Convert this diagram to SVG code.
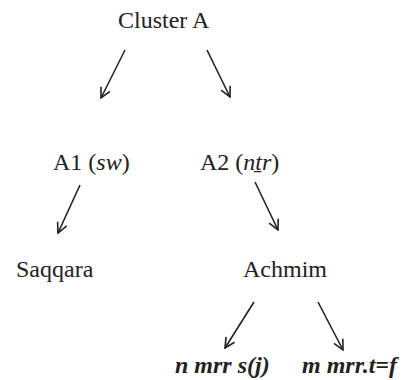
<svg xmlns="http://www.w3.org/2000/svg" width="403" height="380" viewBox="0 0 403 380">
<style>
text{font-family:"Liberation Serif","Times New Roman",serif;font-size:24px;fill:#222}
.i{font-style:italic}
.bi{font-style:italic;font-weight:bold}
.c line{stroke:#222;stroke-width:1.6;fill:none;marker-end:url(#ah)}
</style>
<defs>
<marker id="ah" viewBox="0 0 12 12" refX="11" refY="6" markerWidth="12" markerHeight="12" markerUnits="userSpaceOnUse" orient="auto">
<path d="M1,1 L11,6 L1,11" fill="none" stroke="#222" stroke-width="1.6"/>
</marker>
</defs>
<rect width="403" height="380" fill="#fff"/>
<g id="clusterA"><text x="118" y="28">Cluster A</text></g>
<g id="A1"><text x="53" y="170">A1 (<tspan class="i">sw</tspan>)</text></g>
<g id="A2"><text x="200" y="170">A2 (<tspan class="i">nṯr</tspan>)</text></g>
<g id="saqqara"><text x="16" y="277">Saqqara</text></g>
<g id="achmim"><text x="243" y="277">Achmim</text></g>
<g id="nmrr"><text class="bi" x="175" y="373">n mrr s(j)</text></g>
<g id="mmrr"><text class="bi" x="302" y="373">m mrr.t=f</text></g>
<g class="c" id="connectors">
<line x1="125" y1="50" x2="101" y2="98"/>
<line x1="207" y1="50" x2="230" y2="97"/>
<line x1="80" y1="185" x2="58" y2="233"/>
<line x1="255" y1="182" x2="278" y2="230"/>
<line x1="254" y1="302" x2="225" y2="348"/>
<line x1="318" y1="302" x2="343" y2="350"/>
</g>
</svg>
